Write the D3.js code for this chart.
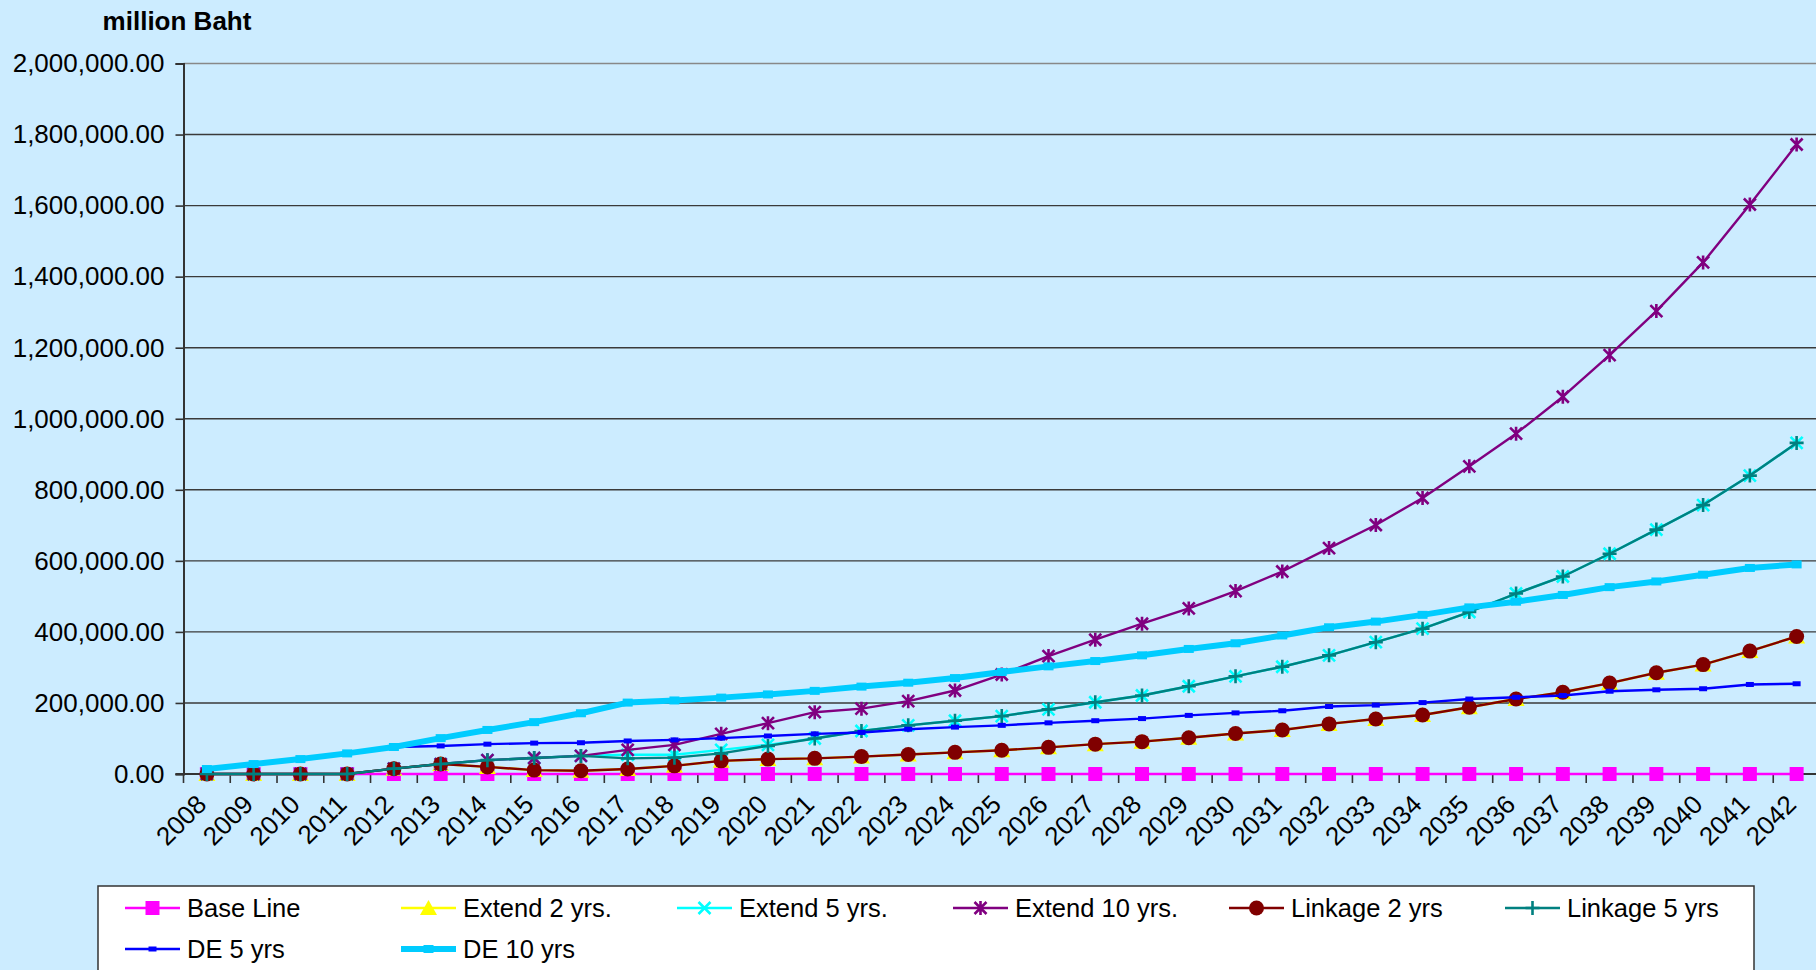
<!DOCTYPE html>
<html>
<head>
<meta charset="utf-8">
<script src="https://cdn.jsdelivr.net/npm/d3@7"></script>
<style>
  html, body { margin: 0; padding: 0; background: #CCECFF; overflow: hidden; }
  svg { display: block; font-family: "Liberation Sans", Arial, sans-serif; }
</style>
</head>
<body>
<div id="chart"></div>
<script>
const years = d3.range(2008, 2043).map(String);

const baseLine = [0,0,0,0,0,0,0,0,0,0,0,0,0,0,0,0,0,0,0,0,0,0,0,0,0,0,0,0,0,0,0,0,0,0,0];
const extend2 = [0,0,0,0,15000,28000,20000,11000,9000,14000,23000,37000,42000,44000,49000,55000,61000,67000,75000,84000,91000,102000,114000,124000,141000,155000,166000,188000,211000,230000,256000,285000,308000,346000,387000];
const extend5 = [0,0,0,0,15000,28000,39000,45000,51000,54000,54000,68000,82000,100000,121000,137000,150000,163000,182000,202000,221000,247000,275000,302000,334000,371000,409000,456000,508000,556000,620000,688000,757000,840000,932000];
const extend10 = [0,0,0,0,15000,28000,39000,45000,51000,68000,82000,113000,143000,174000,184000,205000,235000,280000,332000,378000,423000,466000,515000,570000,636000,701000,777000,866000,958000,1062000,1179000,1303000,1440000,1603000,1772000];
const linkage2 = [0,0,0,0,15000,28000,20000,11000,9000,14000,23000,37000,42000,44000,49000,55000,61000,67000,75000,84000,91000,102000,114000,124000,141000,155000,166000,188000,211000,230000,256000,285000,308000,346000,387000];
const linkage5 = [0,0,0,0,15000,28000,39000,45000,51000,44000,46000,58000,79000,100000,121000,137000,150000,163000,182000,202000,221000,247000,275000,302000,334000,371000,409000,456000,508000,556000,620000,688000,757000,840000,932000];
const de5 = [14000,28000,42000,58000,76000,79000,84000,87000,88000,93000,96000,101000,107000,113000,117000,126000,132000,137000,144000,150000,156000,165000,172000,178000,190000,194000,201000,211000,216000,221000,233000,237000,240000,252000,254000];
const de10 = [14000,28000,42000,58000,76000,101000,124000,146000,171000,201000,207000,215000,224000,234000,246000,257000,270000,287000,303000,318000,334000,352000,368000,390000,413000,429000,448000,469000,485000,504000,526000,542000,561000,580000,590000];

const yTicks = [0,200000,400000,600000,800000,1000000,1200000,1400000,1600000,1800000,2000000];

const series = [
  { name: "Base Line", values: baseLine, color: "#FF00FF", marker: "square", width: 2.6 },
  { name: "Extend 2 yrs.", values: extend2, color: "#FFFF00", marker: "triangle", width: 2.4 },
  { name: "Extend 5 yrs.", values: extend5, color: "#00FFFF", marker: "cross", width: 2.4 },
  { name: "Extend 10 yrs.", values: extend10, color: "#800080", marker: "star", width: 2.4 },
  { name: "Linkage 2 yrs", values: linkage2, color: "#800000", marker: "circle", width: 2.4 },
  { name: "Linkage 5 yrs", values: linkage5, color: "#008080", marker: "plus", width: 2.4 },
  { name: "DE 5 yrs", values: de5, color: "#0000FF", marker: "dash", width: 2.4 },
  { name: "DE 10 yrs", values: de10, color: "#00CCFF", marker: "thick", width: 6 }
];

const W = 1816, H = 970;
const plot = { left: 183.5, right: 1820, top: 63.5, bottom: 774 };

const svg = d3.select("#chart").append("svg")
  .attr("width", W)
  .attr("height", H);

svg.append("rect")
  .attr("width", W).attr("height", H)
  .attr("fill", "#CCECFF");

const xScale = d3.scaleBand()
  .domain(years)
  .range([plot.left, plot.right]);

const yScale = d3.scaleLinear()
  .domain([0, 2000000])
  .range([plot.bottom, plot.top]);

const xc = d => xScale(d) + xScale.bandwidth() / 2;

// gridlines
svg.append("g")
  .selectAll("line")
  .data(yTicks.slice(1))
  .enter().append("line")
  .attr("x1", plot.left).attr("x2", W)
  .attr("y1", d => yScale(d)).attr("y2", d => yScale(d))
  .attr("stroke", d => d === 2000000 ? "#888" : "#3a3a3a")
  .attr("stroke-width", 1.4);

// y axis
const yAxis = svg.append("g")
  .attr("transform", `translate(${plot.left},0)`)
  .call(d3.axisLeft(yScale).tickValues(yTicks).tickFormat(d3.format(",.2f")).tickSize(8).tickPadding(11));
yAxis.select(".domain").attr("stroke", "#333").attr("stroke-width", 2);
yAxis.selectAll(".tick line").attr("stroke", "#333").attr("stroke-width", 1.6);
yAxis.selectAll(".tick text")
  .attr("font-size", "26px")
  .attr("fill", "#000")
  .attr("font-family", "Liberation Sans, Arial, sans-serif");

// x axis line and ticks between categories
svg.append("line")
  .attr("x1", plot.left - 8).attr("x2", W)
  .attr("y1", plot.bottom).attr("y2", plot.bottom)
  .attr("stroke", "#333").attr("stroke-width", 2);

svg.append("g")
  .selectAll("line")
  .data(years)
  .enter().append("line")
  .attr("x1", d => xScale(d)).attr("x2", d => xScale(d))
  .attr("y1", plot.bottom).attr("y2", plot.bottom + 9)
  .attr("stroke", "#333").attr("stroke-width", 1.6);

svg.append("g")
  .selectAll("text")
  .data(years)
  .enter().append("text")
  .attr("transform", d => `translate(${xc(d) + 1},${plot.bottom + 32}) rotate(-45)`)
  .attr("text-anchor", "end")
  .attr("font-size", "26px")
  .attr("fill", "#000")
  .text(d => d);

// title
svg.append("text")
  .attr("x", 177).attr("y", 30)
  .attr("text-anchor", "middle")
  .attr("font-size", "26px")
  .attr("font-weight", "bold")
  .text("million Baht");

// markers
function drawMarker(sel, type, color) {
  if (type === "square") {
    sel.append("rect").attr("x", -7).attr("y", -7).attr("width", 14).attr("height", 14).attr("fill", color);
  } else if (type === "triangle") {
    sel.append("path").attr("d", "M0,-8L8.5,7L-8.5,7Z").attr("fill", color);
  } else if (type === "circle") {
    sel.append("circle").attr("r", 7.5).attr("fill", color);
  } else if (type === "cross") {
    sel.append("path").attr("d", "M-6,-6L6,6M-6,6L6,-6")
      .attr("stroke", color).attr("stroke-width", 2.6).attr("fill", "none");
  } else if (type === "star") {
    sel.append("path").attr("d", "M-6,-6L6,6M-6,6L6,-6M0,-7L0,7")
      .attr("stroke", color).attr("stroke-width", 2.6).attr("fill", "none");
  } else if (type === "plus") {
    sel.append("path").attr("d", "M-7,0L7,0M0,-7L0,7")
      .attr("stroke", color).attr("stroke-width", 2.6).attr("fill", "none");
  } else if (type === "dash") {
    sel.append("rect").attr("x", -4).attr("y", -2.5).attr("width", 8).attr("height", 5).attr("fill", color);
  } else if (type === "thick") {
    sel.append("rect").attr("x", -5).attr("y", -4).attr("width", 10).attr("height", 8).attr("fill", color);
  }
}

const line = d3.line()
  .x((d, i) => xc(years[i]))
  .y(d => yScale(d));

for (const s of series) {
  const g = svg.append("g");
  g.append("path")
    .datum(s.values)
    .attr("fill", "none")
    .attr("stroke", s.color)
    .attr("stroke-width", s.width)
    .attr("stroke-linejoin", "round")
    .attr("d", line);

  g.selectAll("g.mk")
    .data(s.values)
    .enter().append("g")
    .attr("class", "mk")
    .attr("transform", (d, i) => `translate(${xc(years[i])},${yScale(d)})`)
    .each(function () { drawMarker(d3.select(this), s.marker, s.color); });
}

// legend
const legend = svg.append("g");
legend.append("rect")
  .attr("x", 98).attr("y", 886)
  .attr("width", 1656).attr("height", 120)
  .attr("fill", "#fff")
  .attr("stroke", "#333")
  .attr("stroke-width", 1.5);

legend.selectAll("g.item")
  .data(series)
  .enter().append("g")
  .attr("class", "item")
  .attr("transform", (d, i) => `translate(${125 + (i % 6) * 276},${908 + Math.floor(i / 6) * 41})`)
  .each(function (d) {
    const item = d3.select(this);
    item.append("line")
      .attr("x1", 0).attr("x2", 55)
      .attr("stroke", d.color)
      .attr("stroke-width", d.width);
    const m = item.append("g").attr("transform", "translate(27.5,0)");
    drawMarker(m, d.marker, d.color);
    item.append("text")
      .attr("x", 62).attr("y", 0)
      .attr("dy", "0.35em")
      .attr("font-size", "25.5px")
      .attr("fill", "#000")
      .text(d.name);
  });
</script>
</body>
</html>
